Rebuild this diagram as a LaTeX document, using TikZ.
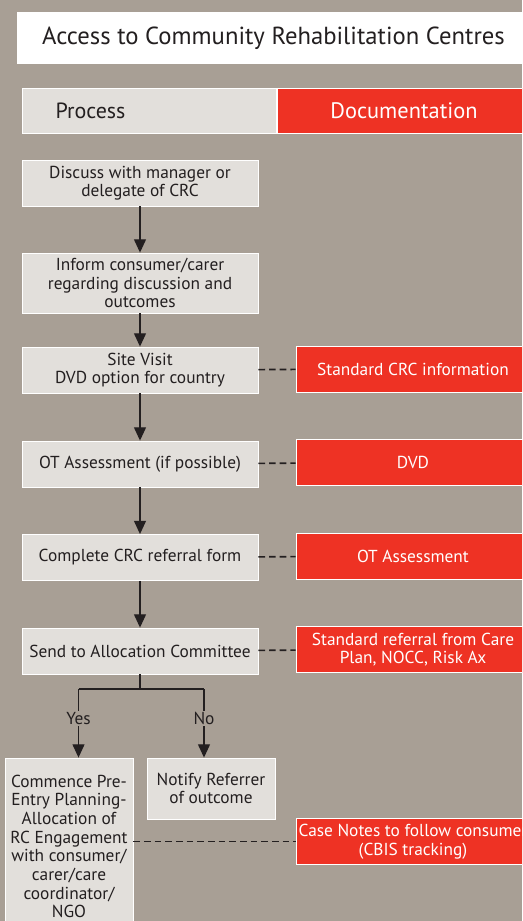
\documentclass[tikz,border=0pt]{standalone}
\usepackage{fontspec}
\setmainfont{PT Sans}
\usetikzlibrary{arrows.meta}
\definecolor{bg}{RGB}{168,159,149}
\definecolor{boxgray}{RGB}{226,223,219}
\definecolor{docred}{RGB}{238,50,36}
\definecolor{ink}{RGB}{35,31,32}
\begin{document}
\begin{tikzpicture}[x=0.75pt,y=-0.75pt]
\tikzstyle{pro}=[rectangle,fill=boxgray,draw=white,line width=0.6pt,text=ink,align=center,inner sep=0pt,minimum width=177pt,minimum height=34.5pt,font=\fontsize{13}{13.6}\selectfont];
\tikzstyle{doc}=[rectangle,fill=docred,draw=white,line width=0.6pt,text=white,align=center,inner sep=0pt,minimum width=175.5pt,minimum height=34.5pt,font=\fontsize{13}{14}\selectfont];
\tikzstyle{head}=[rectangle,draw=white,line width=0.6pt,inner sep=0pt,minimum width=190.5pt,minimum height=33.75pt];
\tikzstyle{alloc}=[->,>={Triangle[length=10pt,width=9pt]},line width=1pt,ink];
\tikzstyle{link}=[line width=1.2pt,ink,dash pattern=on 5pt off 3pt];
\tikzstyle{ans}=[fill=bg,text=ink,inner sep=1pt,font=\fontsize{13}{14}\selectfont];
\useasboundingbox (0,0) rectangle (522,921);
\clip (0,0) rectangle (522,921);
\fill [bg] (0,0) rectangle (522,921);

\node [fill=white,minimum width=384.75pt,minimum height=39pt,text=ink,font=\fontsize{18.5}{20}\selectfont] (t) at (273.5,38) {Access to Community Rehabilitation Centres};
\node [head,fill=boxgray] (h1) at (149,110.5) {};
\node [text=ink,font=\fontsize{16.5}{18}\selectfont] (h1t) at (90.5,110.5) {Process};
\node [head,fill=docred,text=white,font=\fontsize{16.8}{18}\selectfont] (h2) at (404,110.5) {Documentation};

\node [pro] (p1) at (140,183) {Discuss with manager or\\delegate of CRC};
\node [pro,minimum height=45pt] (p2) at (140,283) {Inform consumer/carer\\regarding discussion and\\outcomes};
\node [pro] (p3) at (140,370) {Site Visit\\DVD option for country};
\node [pro] (p4) at (140,464) {OT Assessment (if possible)};
\node [pro] (p5) at (140,557.5) {Complete CRC referral form};
\node [pro] (p6) at (140,651) {Send to Allocation Committee};
\node [pro,minimum width=96pt,minimum height=132.75pt,font=\fontsize{13}{14}\selectfont] (p7) at (69,846.5) {Commence Pre-\\Entry Planning-\\Allocation of\\RC Engagement\\with consumer/\\carer/care\\coordinator/\\NGO};
\node [pro,minimum width=96pt,minimum height=45.75pt,font=\fontsize{13}{14}\selectfont] (p8) at (211,788.5) {Notify Referrer\\of outcome};

\node [doc] (d1) at (413,369) {Standard CRC information};
\node [doc] (d2) at (413,462.5) {DVD};
\node [doc] (d3) at (413,556) {OT Assessment};
\node [doc] (d4) at (413,649.5) {Standard referral from Care\\Plan, NOCC, Risk Ax};
\node [doc] (d5) at (413,841.5) {Case Notes to follow consumer\\(CBIS tracking)};

\draw [alloc] (p1) edge (p2);
\draw [alloc] (p2) edge (p3);
\draw [alloc] (p3) edge (p4);
\draw [alloc] (p4) edge (p5);
\draw [alloc] (p5) edge (p6);

\coordinate (br) at (140,689);
\coordinate (yl) at (78.5,689);
\coordinate (nl) at (204,689);
\draw [line width=1pt,ink] (p6) -- (br);
\draw [line width=1pt,ink] (yl) -- (nl);
\draw [alloc] (yl) -- (yl |- p7.north) node [ans,pos=0.43] {Yes};
\draw [alloc] (nl) -- (nl |- p8.north) node [ans,pos=0.43] {No};

\draw [link] (p3) -- (d1);
\draw [link] (p4) -- (d2);
\draw [link] (p5) -- (d3);
\draw [link] (p6) -- (d4);
\draw [link] (d5 -| p7.east) -- (d5);
\end{tikzpicture}
\end{document}
